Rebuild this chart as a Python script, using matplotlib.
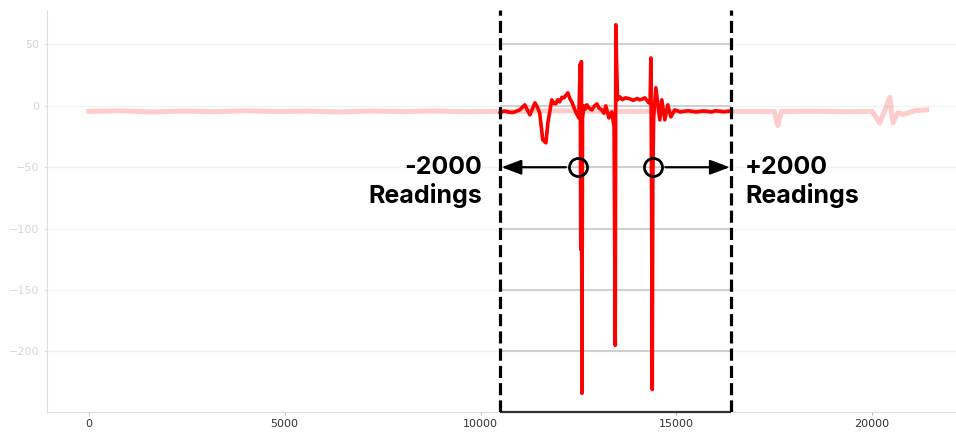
import numpy as np
import matplotlib
matplotlib.use("Agg")
import matplotlib.pyplot as plt

# full recording (faded)
full_x = [0, 800, 1600, 2400, 3200, 4000, 4800, 5600, 6400, 7200, 8000, 8800, 9600, 10400,
          11000, 12000, 13000, 14000, 15000, 16000, 16800, 17500, 17590, 17680, 18500, 19300,
          20000, 20190, 20320, 20450, 20530, 20650, 20800, 21090, 21390]
full_y = [-4.5, -4.0, -5.0, -4.2, -4.8, -4.0, -4.6, -4.3, -5.0, -4.2, -4.7, -4.1, -4.8, -4.5,
          -4.5, -4.0, -4.5, -4.5, -4.5, -4.5, -4.6, -4.5, -16.0, -4.6, -4.4, -4.8,
          -4.5, -14.0, -4.0, 7.0, -14.0, -5.7, -7.0, -4.0, -3.3]

# highlighted window (+/- 2000 readings around the two events)
win_x = [10500, 10600, 10700, 10800, 10875, 10950, 11000, 11130, 11200, 11260, 11390, 11450,
         11510, 11590, 11670, 11720, 11820, 11870, 11920, 11970, 12020, 12080, 12130, 12230,
         12280, 12330, 12430, 12510, 12545, 12560, 12575, 12590, 12605, 12640, 12680, 12714,
         12780, 12842, 12900, 12970, 13030, 13097, 13150, 13200, 13276, 13320, 13352, 13410,
         13440, 13455, 13470, 13500, 13556, 13620, 13700, 13812, 13900, 14000, 14067, 14130,
         14195, 14297, 14330, 14350, 14370, 14385, 14400, 14420, 14476, 14578, 14629, 14706,
         14782, 14859, 14961, 15100, 15300, 15500, 15700, 15900, 16000, 16200, 16400]
win_y = [-5.7, -4.2, -4.9, -5.5, -4.9, -4.0, -3.3, 0.8, -3.5, -7.3, 2.4, -1.0,
         -5.7, -27.7, -30.1, -13.8, 4.9, 2.0, 1.6, 5.0, 3.3, 7.0, 6.5, 10.6,
         6.0, 3.3, -4.9, -9.8, 34.0, -117.0, 36.0, -234.0, -10.0, 0.0, -2.5, 0.8,
         -2.0, -3.3, -0.5, 1.6, -2.0, -3.3, -6.0, 0.0, -9.8, -7.0, -4.9, -17.0,
         -195.0, 66.0, 40.0, 5.0, 7.3, 5.0, 6.5, 5.7, 4.5, 6.0, 4.9, 5.5,
         6.5, 2.4, 3.0, 39.0, -91.0, -231.0, -60.0, -10.0, 14.7, -11.4, 4.9, -11.4,
         0.8, -9.0, -3.3, -5.0, -4.0, -5.0, -4.2, -5.0, -4.0, -4.8, -4.2]

win_lo, win_hi = 10500, 16400
events = [12500, 14400]
xticks = [0, 5000, 10000, 15000, 20000]
yticks = [50, 0, -50, -100, -150, -200]

fig = plt.figure(figsize=(9.56, 4.37), dpi=100)
ax = fig.add_axes([0.049, 0.058, 0.951, 0.919])

ax.plot(full_x, full_y, color='red', alpha=0.2, lw=3.6, solid_joinstyle='round')
ax.plot(win_x, win_y, color='red', lw=2.6, solid_joinstyle='round')

ax.set_xlim(-1072, 22140)
ax.set_ylim(-249, 78)
ax.set_xticks(xticks)
ax.set_yticks(yticks)

# faded grid everywhere, darker inside the window
for yv in yticks:
    ax.axhline(yv, color='#f2f2f2', lw=1, zorder=0)
    ax.hlines(yv, win_lo, win_hi, color='#c8c8c8', lw=1.2, zorder=0.5)

for s in ['top', 'right']:
    ax.spines[s].set_visible(False)
ax.spines['left'].set_color('#dddddd')
ax.spines['bottom'].set_color('#dddddd')
ax.hlines(-249, win_lo, win_hi, color='#333333', lw=1.6, zorder=3, clip_on=False)

ax.tick_params(axis='y', colors='#dddddd', labelcolor='#d5d5d5', labelsize=8, length=2)
ax.tick_params(axis='x', colors='#bbbbbb', labelcolor='#333333', labelsize=8, length=2)

# window borders
for xv in [win_lo, win_hi]:
    ax.axvline(xv, color='black', lw=2.3, linestyle=(0, (3.8, 1.6)), zorder=4)

# markers and arrows
for ev, target in zip(events, [win_lo, win_hi]):
    ax.annotate('', xy=(target, -50), xytext=(ev, -50),
                arrowprops=dict(arrowstyle='-|>,head_length=1.2,head_width=0.45',
                                color='black', lw=1.6, shrinkA=9, shrinkB=1), zorder=5)
    ax.plot(ev, -50, 'o', ms=13, mfc='none', mec='black', mew=2, zorder=6)

ax.text(10030, -62, '-2000\nReadings', ha='right', va='center', ma='right',
        fontsize=18, fontweight='bold', family=['Inter', 'DejaVu Sans'], linespacing=1.2)
ax.text(16750, -62, '+2000\nReadings', ha='left', va='center', ma='left',
        fontsize=18, fontweight='bold', family=['Inter', 'DejaVu Sans'], linespacing=1.2)

fig.savefig('out.png', dpi=100)
